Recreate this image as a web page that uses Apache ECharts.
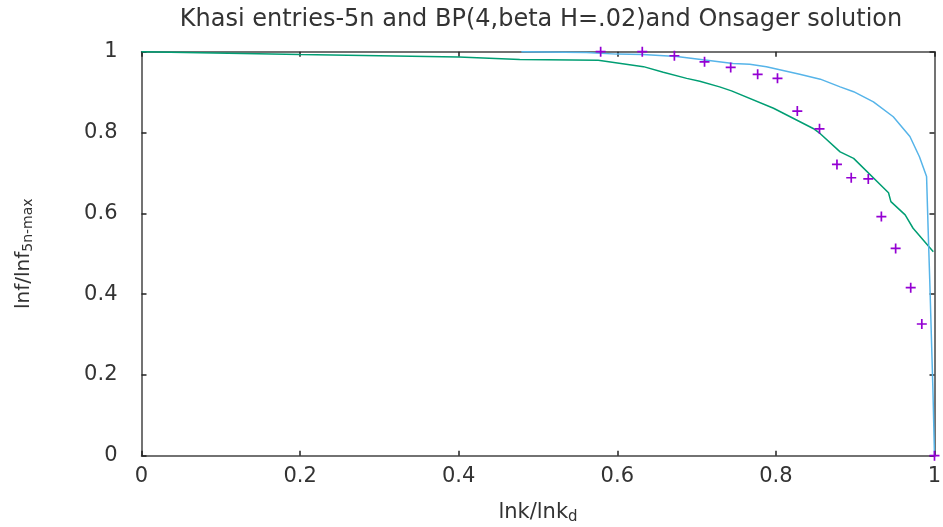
<!DOCTYPE html>
<html>
<head>
<meta charset="utf-8">
<script src="https://cdn.jsdelivr.net/npm/echarts@6/dist/echarts.min.js"></script>
<style>
html,body{margin:0;padding:0;background:#fff;}
#chart{width:943px;height:527px;}
</style>
</head>
<body>
<div id="chart"></div>
<script>
// Khasi entries (purple crosses): [lnk/lnk_d, lnf/lnf_max]
const khasiX = [0.579, 0.6315, 0.672, 0.710, 0.743, 0.777, 0.802, 0.827, 0.855, 0.877, 0.895, 0.9165, 0.933, 0.951, 0.970, 0.984, 1.0];
const khasiY = [1.0, 1.0, 0.990, 0.975, 0.961, 0.944, 0.934, 0.853, 0.809, 0.721, 0.688, 0.685, 0.592, 0.513, 0.416, 0.326, 0.0];

// Green curve
const greenX = [0, 0.2, 0.4, 0.477, 0.576, 0.633, 0.658, 0.6875, 0.704, 0.729, 0.744, 0.797, 0.847, 0.856, 0.881, 0.898, 0.942, 0.945, 0.963, 0.973, 0.9985];
const greenY = [1.0, 0.993, 0.987, 0.981, 0.979, 0.963, 0.949, 0.934, 0.927, 0.913, 0.903, 0.860, 0.810, 0.797, 0.752, 0.736, 0.651, 0.629, 0.596, 0.563, 0.505];

// Blue curve
const blueX = [0.479, 0.561, 0.599, 0.632, 0.675, 0.708, 0.746, 0.767, 0.788, 0.830, 0.856, 0.881, 0.898, 0.923, 0.948, 0.969, 0.981, 0.990, 0.992, 0.994, 0.998, 1.0];
const blueY = [1.0, 0.998, 0.994, 0.993, 0.988, 0.980, 0.971, 0.969, 0.963, 0.944, 0.932, 0.913, 0.901, 0.876, 0.839, 0.790, 0.740, 0.691, 0.559, 0.435, 0.163, 0.0];

const xTicks = [0, 0.2, 0.4, 0.6, 0.8, 1];
const yTicks = [0, 0.2, 0.4, 0.6, 0.8, 1];

const titleText = 'Khasi entries-5n and BP(4,beta H=.02)and Onsager solution';

function zip(xs, ys) { return xs.map((x, i) => [x, ys[i]]); }

const FONT = 'DejaVu Sans';
const TXT = '#333';
const plus = 'path://M4.15,0H5.85V4.15H10V5.85H5.85V10H4.15V5.85H0V4.15H4.15Z';

const chart = echarts.init(document.getElementById('chart'), null, {renderer: 'canvas'});
const axisCommon = {
  type: 'value', min: 0, max: 1, interval: 0.2,
  axisLine: {show: true, onZero: false, lineStyle: {color: '#444', width: 1.5}},
  axisTick: {show: true, inside: true, length: 5, lineStyle: {color: '#222', width: 1.5}},
  splitLine: {show: false}
};
chart.setOption({
  animation: false,
  backgroundColor: '#fff',
  title: {
    text: titleText, left: 536, top: 3, textAlign: 'center',
    textStyle: {fontFamily: FONT, fontSize: 24, fontWeight: 'normal', color: TXT}
  },
  grid: {left: 141.5, right: 8.5, top: 51.7, bottom: 71.3, show: false, outerBoundsMode: 'none', containLabel: false},
  xAxis: [
    Object.assign({}, axisCommon, {
      position: 'bottom',
      name: '{a|lnk/lnk}{s|d}', nameLocation: 'middle', nameGap: 45,
      nameTextStyle: {rich: {a: {fontFamily: FONT, fontSize: 21, color: TXT}, s: {fontFamily: FONT, fontSize: 15, color: TXT, verticalAlign: 'bottom', padding: [9, 0, 0, 0]}}},
      axisLabel: {fontFamily: FONT, fontSize: 21, color: TXT, margin: 10}
    }),
    Object.assign({}, axisCommon, {position: 'top', axisLabel: {show: false}})
  ],
  yAxis: [
    Object.assign({}, axisCommon, {
      position: 'left',
      name: '{a|lnf/lnf}{s|5n-max}', nameLocation: 'middle', nameGap: 106, nameRotate: 90,
      nameTextStyle: {rich: {a: {fontFamily: FONT, fontSize: 20, color: TXT}, s: {fontFamily: FONT, fontSize: 14, color: TXT, padding: [9, 0, 0, 0]}}},
      axisLabel: {fontFamily: FONT, fontSize: 21, color: TXT, margin: 24}
    }),
    Object.assign({}, axisCommon, {position: 'right', axisLabel: {show: false}})
  ],
  series: [
    {
      type: 'line', data: zip(greenX, greenY), showSymbol: false, symbol: 'none',
      lineStyle: {color: '#009e73', width: 1.5}, z: 3
    },
    {
      type: 'line', data: zip(blueX, blueY), showSymbol: false, symbol: 'none',
      lineStyle: {color: '#56b4e9', width: 1.5}, z: 3
    },
    {
      type: 'scatter', data: zip(khasiX, khasiY), symbol: plus, symbolSize: 10,
      clip: false, itemStyle: {color: '#9400d3', opacity: 1}, z: 4
    }
  ]
});
</script>
</body>
</html>
